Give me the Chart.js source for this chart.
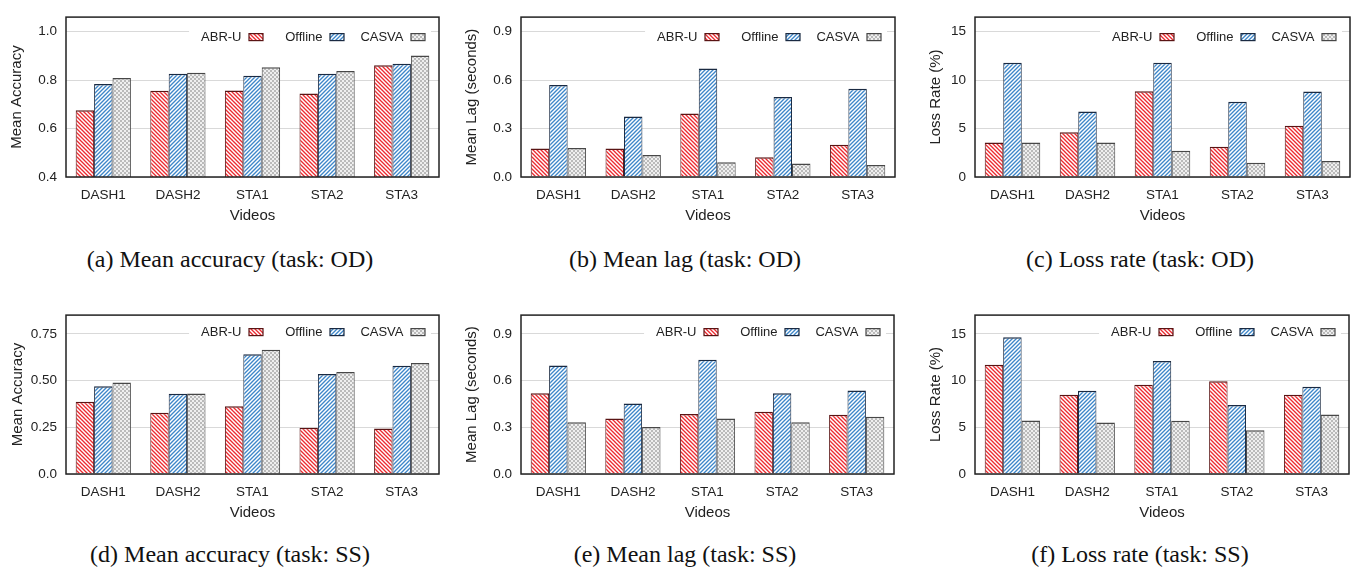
<!DOCTYPE html>
<html>
<head>
<meta charset="utf-8">
<script src="https://cdn.jsdelivr.net/npm/chart.js@4/dist/chart.umd.min.js"></script>
<style>
  body { margin: 0; background: #fff; width: 1358px; height: 570px; position: relative; overflow: hidden; }
  canvas { position: absolute; }
  .cap { position: absolute; font-family: "Liberation Serif", "Times New Roman", serif; font-size: 24px;
         line-height: 1; white-space: nowrap; transform: translateX(-50%); color: #111; }
</style>
</head>
<body>
<canvas id="pa" width="449" height="227" style="left:0px;top:0px"></canvas>
<canvas id="pb" width="450" height="227" style="left:455px;top:0px"></canvas>
<canvas id="pc" width="451" height="227" style="left:909px;top:0px"></canvas>
<canvas id="pd" width="449" height="226" style="left:0px;top:298px"></canvas>
<canvas id="pe" width="449" height="226" style="left:455px;top:298px"></canvas>
<canvas id="pf" width="450" height="226" style="left:909px;top:298px"></canvas>

<div class="cap" style="left:230px;top:247px">(a) Mean accuracy (task: OD)</div>
<div class="cap" style="left:685px;top:247px">(b) Mean lag (task: OD)</div>
<div class="cap" style="left:1140px;top:247px">(c) Loss rate (task: OD)</div>
<div class="cap" style="left:230px;top:542px">(d) Mean accuracy (task: SS)</div>
<div class="cap" style="left:685px;top:542px">(e) Mean lag (task: SS)</div>
<div class="cap" style="left:1140px;top:542px">(f) Loss rate (task: SS)</div>

<script>
// categories and series names
const videos = ['DASH1', 'DASH2', 'STA1', 'STA2', 'STA3'];
const methods = ['ABR-U', 'Offline', 'CASVA'];

// task OD
const accOdAbru = [0.676, 0.756, 0.757, 0.745, 0.861];
const accOdOffline = [0.784, 0.826, 0.818, 0.826, 0.867];
const accOdCasva = [0.809, 0.830, 0.853, 0.838, 0.902];

const lagOdAbru = [0.177, 0.177, 0.393, 0.123, 0.200];
const lagOdOffline = [0.570, 0.374, 0.672, 0.495, 0.547];
const lagOdCasva = [0.180, 0.136, 0.092, 0.084, 0.075];

const lossOdAbru = [3.55, 4.61, 8.86, 3.13, 5.28];
const lossOdOffline = [11.8, 6.75, 11.8, 7.77, 8.83];
const lossOdCasva = [3.55, 3.55, 2.72, 1.47, 1.66];

// task SS
const accSsAbru = [0.386, 0.328, 0.363, 0.247, 0.243];
const accSsOffline = [0.470, 0.429, 0.641, 0.535, 0.579];
const accSsCasva = [0.490, 0.430, 0.664, 0.546, 0.594];

const lagSsAbru = [0.519, 0.356, 0.385, 0.399, 0.380];
const lagSsOffline = [0.697, 0.453, 0.733, 0.519, 0.536];
const lagSsCasva = [0.332, 0.302, 0.356, 0.332, 0.368];

const lossSsAbru = [11.69, 8.48, 9.54, 9.93, 8.48];
const lossSsOffline = [14.64, 8.91, 12.09, 7.38, 9.34];
const lossSsCasva = [5.73, 5.50, 5.70, 4.67, 6.36];

// tick values and labels
const accOdTicks = [0.4, 0.6, 0.8, 1.0];
const accOdTickLabels = ['0.4', '0.6', '0.8', '1.0'];
const lagTicks = [0, 0.3, 0.6, 0.9];
const lagTickLabels = ['0.0', '0.3', '0.6', '0.9'];
const lossTicks = [0, 5, 10, 15];
const lossTickLabels = ['0', '5', '10', '15'];
const accSsTicks = [0, 0.25, 0.5, 0.75];
const accSsTickLabels = ['0.0', '0.25', '0.50', '0.75'];

const xTitle = 'Videos';

Chart.defaults.font.family = '"Liberation Sans", Arial, sans-serif';
Chart.defaults.color = '#222';

// fill patterns like the gnuplot ones
function hatch(color, dir) {
  const s = 4;
  const c = document.createElement('canvas');
  c.width = s; c.height = s;
  const g = c.getContext('2d');
  g.fillStyle = '#fff';
  g.fillRect(0, 0, s, s);
  g.strokeStyle = color;
  g.lineWidth = 1.35;
  g.beginPath();
  if (dir === 'back') {
    g.moveTo(-1, -1); g.lineTo(s + 1, s + 1);
    g.moveTo(-1, s - 1); g.lineTo(1, s + 1);
    g.moveTo(s - 1, -1); g.lineTo(s + 1, 1);
  } else {
    g.moveTo(-1, s + 1); g.lineTo(s + 1, -1);
    g.moveTo(-1, 1); g.lineTo(1, -1);
    g.moveTo(s - 1, s + 1); g.lineTo(s + 1, s - 1);
  }
  g.stroke();
  return g.createPattern(c, 'repeat');
}

function checker() {
  const c = document.createElement('canvas');
  c.width = 4; c.height = 4;
  const g = c.getContext('2d');
  g.fillStyle = '#efefef';
  g.fillRect(0, 0, 4, 4);
  g.fillStyle = '#bababa';
  g.fillRect(0, 0, 2, 2);
  g.fillRect(2, 2, 2, 2);
  return g.createPattern(c, 'repeat');
}

const fills = [hatch('#ec2a30', 'back'), hatch('#3d86c9', 'fwd'), checker()];
const edges = ['#5a1414', '#1a2a42', '#474747'];

// key drawn inside the plot, with white box over the grid line
const keyPlugin = {
  id: 'key',
  afterDatasetsDraw(chart, args, opts) {
    const { ctx, chartArea } = chart;
    const sets = chart.data.datasets;
    const y = chartArea.top + opts.dy;
    const pitch = 81, sw = 14, sh = 7;
    ctx.save();
    ctx.font = '13px "Liberation Sans", Arial, sans-serif';
    const firstRight = chartArea.right - 14 - (sets.length - 1) * pitch;
    const firstW = ctx.measureText(sets[0].label).width;
    const bgLeft = firstRight - sw - 7.5 - firstW - 12;
    ctx.fillStyle = '#fff';
    ctx.fillRect(bgLeft, y - 9, chartArea.right - 8 - bgLeft, 18);
    sets.forEach((ds, i) => {
      const right = firstRight + i * pitch;
      const left = right - sw;
      ctx.fillStyle = ds.backgroundColor;
      ctx.fillRect(left, y - sh / 2, sw, sh);
      ctx.strokeStyle = ds.borderColor;
      ctx.lineWidth = 1.2;
      ctx.strokeRect(left, y - sh / 2, sw, sh);
      ctx.fillStyle = '#222';
      ctx.textAlign = 'right';
      ctx.textBaseline = 'middle';
      ctx.fillText(ds.label, left - 7.5, y + 0.5);
    });
    ctx.restore();
  },
  afterDraw(chart) {
    const { ctx, chartArea } = chart;
    ctx.save();
    ctx.strokeStyle = '#222';
    ctx.lineWidth = 1.5;
    ctx.strokeRect(chartArea.left, chartArea.top, chartArea.right - chartArea.left, chartArea.bottom - chartArea.top);
    ctx.restore();
  }
};

const panels = [
  { id: 'pa', series: [accOdAbru, accOdOffline, accOdCasva], min: 0.4, max: 1.06,
    ticks: accOdTicks, labels: accOdTickLabels, title: 'Mean Accuracy', tpad: 7.5, dy: 20 },
  { id: 'pb', series: [lagOdAbru, lagOdOffline, lagOdCasva], min: 0, max: 0.99,
    ticks: lagTicks, labels: lagTickLabels, title: 'Mean Lag (seconds)', tpad: 7.5, dy: 20 },
  { id: 'pc', series: [lossOdAbru, lossOdOffline, lossOdCasva], min: 0, max: 16.5,
    ticks: lossTicks, labels: lossTickLabels, title: 'Loss Rate (%)', tpad: 17.5, dy: 20 },
  { id: 'pd', series: [accSsAbru, accSsOffline, accSsCasva], min: 0, max: 0.85,
    ticks: accSsTicks, labels: accSsTickLabels, title: 'Mean Accuracy', tpad: 9, dy: 17 },
  { id: 'pe', series: [lagSsAbru, lagSsOffline, lagSsCasva], min: 0, max: 1.02,
    ticks: lagTicks, labels: lagTickLabels, title: 'Mean Lag (seconds)', tpad: 7.7, dy: 17 },
  { id: 'pf', series: [lossSsAbru, lossSsOffline, lossSsCasva], min: 0, max: 17,
    ticks: lossTicks, labels: lossTickLabels, title: 'Loss Rate (%)', tpad: 17.5, dy: 17 }
];

panels.forEach(p => {
  new Chart(document.getElementById(p.id), {
    type: 'bar',
    data: {
      labels: videos,
      datasets: methods.map((m, i) => ({
        label: m,
        data: p.series[i],
        backgroundColor: fills[i],
        borderColor: edges[i],
        borderWidth: { top: 1.5, left: 1, right: 1, bottom: 0 },
        borderSkipped: false,
        categoryPercentage: 0.74,
        barPercentage: 1.0
      }))
    },
    options: {
      responsive: false,
      devicePixelRatio: 1,
      animation: false,
      layout: { padding: { top: 5, right: 10, left: 0, bottom: 0 } },
      plugins: {
        legend: { display: false },
        tooltip: { enabled: false },
        key: { dy: p.dy }
      },
      scales: {
        x: {
          grid: { display: false },
          border: { display: false },
          ticks: { font: { size: 13.5 }, color: '#222', padding: 2, maxRotation: 0 },
          title: { display: true, text: xTitle, font: { size: 15 }, color: '#222', padding: { top: 0, bottom: 2.5 } },
          afterFit: s => { s.height = 50; }
        },
        y: {
          min: p.min,
          max: p.max,
          grid: { color: '#d9d9d9', lineWidth: 1, drawTicks: false },
          border: { display: false },
          afterBuildTicks: s => { s.ticks = p.ticks.map(v => ({ value: v })); },
          ticks: { font: { size: 13.5 }, color: '#222', padding: 9, callback: (v, i) => p.labels[i] },
          title: { display: true, text: p.title, font: { size: 15 }, color: '#222', padding: { top: p.tpad, bottom: 0 } },
          afterFit: s => { s.width = 66; }
        }
      }
    },
    plugins: [keyPlugin]
  });
});
</script>
</body>
</html>
